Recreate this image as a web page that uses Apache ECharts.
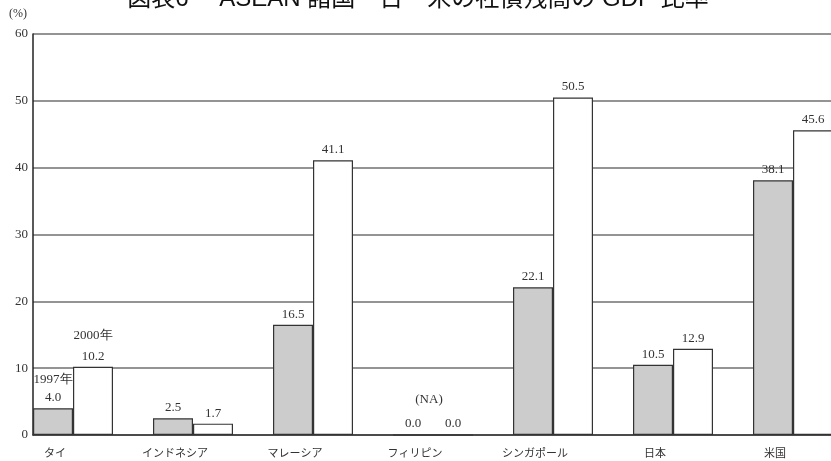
<!DOCTYPE html>
<html><head><meta charset="utf-8">
<script src="https://cdn.jsdelivr.net/npm/echarts@6/dist/echarts.min.js"></script>
<style>html,body{margin:0;padding:0;background:#fff;overflow:hidden;width:831px;height:461px}#c{width:873px;height:461px}</style>
</head><body><div id="c"></div>
<script>
var titleText = '図表6　 ASEAN 諸国・日・米の社債残高の GDP 比率';
var unitLabel = '(%)';
var categories = ['タイ','インドネシア','マレーシア','フィリピン','シンガポール','日本','米国'];
var seriesNames = ['1997年','2000年'];
var values1997 = [4.0, 2.5, 16.5, 0.0, 22.1, 10.5, 38.1];
var values2000 = [10.2, 1.7, 41.1, 0.0, 50.5, 12.9, 45.6];
var naNote = '(NA)';
var naIndex = 3;
var yTicks = [0, 10, 20, 30, 40, 50, 60];

var serif = '"Liberation Serif","DejaVu Serif",serif';
var jp = '"Noto Sans CJK JP","Noto Sans",sans-serif';
var titleFont = '"Liberation Sans","Noto Sans CJK JP",sans-serif';

function makeLabel(seriesIdx) {
  return {
    show: true, position: 'top', distance: 3,
    fontFamily: serif, fontSize: 13, color: '#333',
    formatter: function (p) {
      var v = p.value.toFixed(1);
      if (p.dataIndex === 0) return '{n|' + seriesNames[seriesIdx] + '}\n{v|' + v + '}';
      if (seriesIdx === 0 && p.dataIndex === naIndex) return '{na|' + naNote + '}\n{v|' + v + '}';
      return '{v|' + v + '}';
    },
    rich: {
      v: { fontFamily: serif, fontSize: 13, color: '#333', lineHeight: 15 },
      n: { fontFamily: serif, fontSize: 13, color: '#333', lineHeight: 15, padding: [0, 0, seriesIdx === 0 ? 6 : 12, 0] },
      na: { fontFamily: serif, fontSize: 13, color: '#333', lineHeight: 15, padding: [0, 0, 18, 32] }
    }
  };
}

var chart = echarts.init(document.getElementById('c'), null, { renderer: 'canvas' });
chart.setOption({
  animation: false,
  backgroundColor: '#fff',
  title: {
    text: titleText, left: 413, top: -18, textAlign: 'center',
    textStyle: { fontFamily: titleFont, fontSize: 24, fontWeight: 'normal', color: '#111', lineHeight: 24 }
  },
  grid: { left: 33, right: 0, top: 34, bottom: 26, containLabel: false },
  xAxis: {
    type: 'category', data: categories,
    axisLine: { show: true, lineStyle: { color: '#333', width: 1.5 } },
    axisTick: { show: false },
    axisLabel: { fontFamily: jp, fontSize: 11, color: '#333', margin: 12, padding: [0, 76, 0, 0], interval: 0 },
    splitLine: { show: false }
  },
  yAxis: {
    type: 'value', min: yTicks[0], max: yTicks[yTicks.length - 1], interval: 10,
    name: unitLabel, nameLocation: 'end', nameGap: 14,
    nameTextStyle: { fontFamily: serif, fontSize: 12, color: '#333', align: 'right', padding: [0, 6, 0, 0] },
    axisLine: { show: true, lineStyle: { color: '#222', width: 1.5 } },
    axisTick: { show: false },
    axisLabel: { fontFamily: serif, fontSize: 13, color: '#333', margin: 5 },
    splitLine: { show: true, lineStyle: { color: '#707070', width: 1.5 } }
  },
  series: [
    {
      name: seriesNames[0], type: 'bar', data: values1997, barWidth: 40, barGap: '0%',
      itemStyle: { color: '#cccccc', borderColor: '#333', borderWidth: 1.2 },
      label: makeLabel(0)
    },
    {
      name: seriesNames[1], type: 'bar', data: values2000, barWidth: 40, barGap: '0%',
      itemStyle: { color: '#ffffff', borderColor: '#333', borderWidth: 1.2 },
      label: makeLabel(1)
    },
    {
      name: 'spacer', type: 'bar', data: categories.map(function () { return null; }), barWidth: 40, barGap: '0%',
      itemStyle: { color: 'rgba(0,0,0,0)' }, silent: true
    }
  ]
});
</script></body></html>
